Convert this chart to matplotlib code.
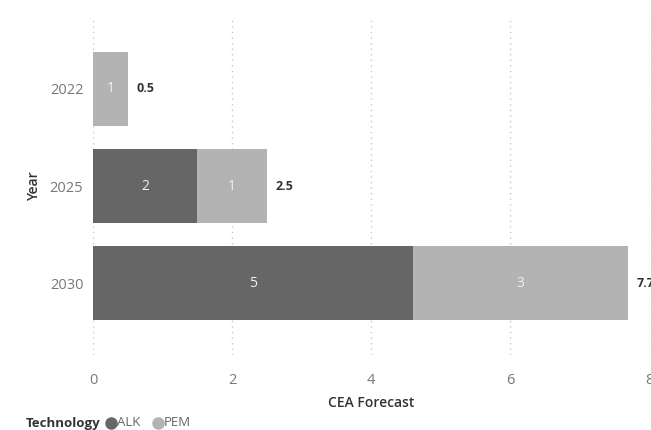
import matplotlib
matplotlib.use("Agg")
import matplotlib.pyplot as plt
import numpy as np
from matplotlib.lines import Line2D

years = ["2022", "2025", "2030"]
alk = [0.0, 1.5, 4.6]
pem = [0.5, 1.0, 3.1]
xticks = [0, 2, 4, 6, 8]
series_names = ["ALK", "PEM"]

ALK_C = "#666666"
PEM_C = "#b3b3b3"

plt.rcParams["font.family"] = ["Open Sans", "DejaVu Sans"]

fig = plt.figure(figsize=(6.51, 4.30), dpi=100)
ax = fig.add_axes([93 / 651, 1 - 355 / 430, (649 - 93) / 651, (355 - 17) / 430])

ypos = np.arange(len(years))
h = 0.76
alk = np.array(alk)
pem = np.array(pem)
total = alk + pem

ax.barh(ypos, alk, height=h, color=ALK_C, zorder=3)
ax.barh(ypos, pem, left=alk, height=h, color=PEM_C, zorder=3)


def half_up(v):
    return str(int(np.floor(v + 0.5)))


for y, a, p, t in zip(ypos, alk, pem, total):
    if a > 0:
        ax.text(a / 2, y, half_up(a), ha="center", va="center",
                color="#f0f0f0", fontsize=10, zorder=4)
    if p > 0:
        ax.text(a + p / 2, y, half_up(p), ha="center", va="center",
                color="#f0f0f0", fontsize=10, zorder=4)
    ax.text(t + 0.12, y, f"{t:.1f}", ha="left", va="center",
            color="#333333", fontsize=9, fontweight="bold", zorder=4,
            clip_on=False)

ax.set_xlim(0, 8)
ax.set_ylim(2.74, -0.74)
ax.set_yticks(ypos)
ax.set_yticklabels(years)
ax.set_xticks(xticks)
ax.set_xticklabels([str(v) for v in xticks])

for s in ax.spines.values():
    s.set_visible(False)
ax.tick_params(axis="both", length=0, colors="#777777", labelsize=10.5)
ax.tick_params(axis="x", pad=13)
ax.tick_params(axis="y", pad=7)
ax.grid(axis="x", color="#c8c8c8", linestyle=(0, (1, 3)), linewidth=1, zorder=0)
ax.set_axisbelow(True)

ax.set_xlabel("CEA Forecast", color="#333333", fontsize=10, fontweight="semibold",
              labelpad=6)
ax.set_ylabel("Year", color="#333333", fontsize=10, fontweight="semibold",
              labelpad=6)

# legend row along the bottom
ly = 1 - 423 / 430
fig.text(26 / 651, ly, "Technology", color="#333333", fontsize=9.5,
         fontweight="bold", va="center", ha="left")
for name, col, mx in zip(series_names, [ALK_C, PEM_C], [111, 158]):
    fig.add_artist(Line2D([mx / 651], [ly], marker="o", linestyle="", color=col,
                          markersize=8, transform=fig.transFigure))
    fig.text((mx + 6) / 651, ly, name, color="#666666", fontsize=9.5,
             va="center", ha="left")

fig.savefig("out.png", dpi=100)
